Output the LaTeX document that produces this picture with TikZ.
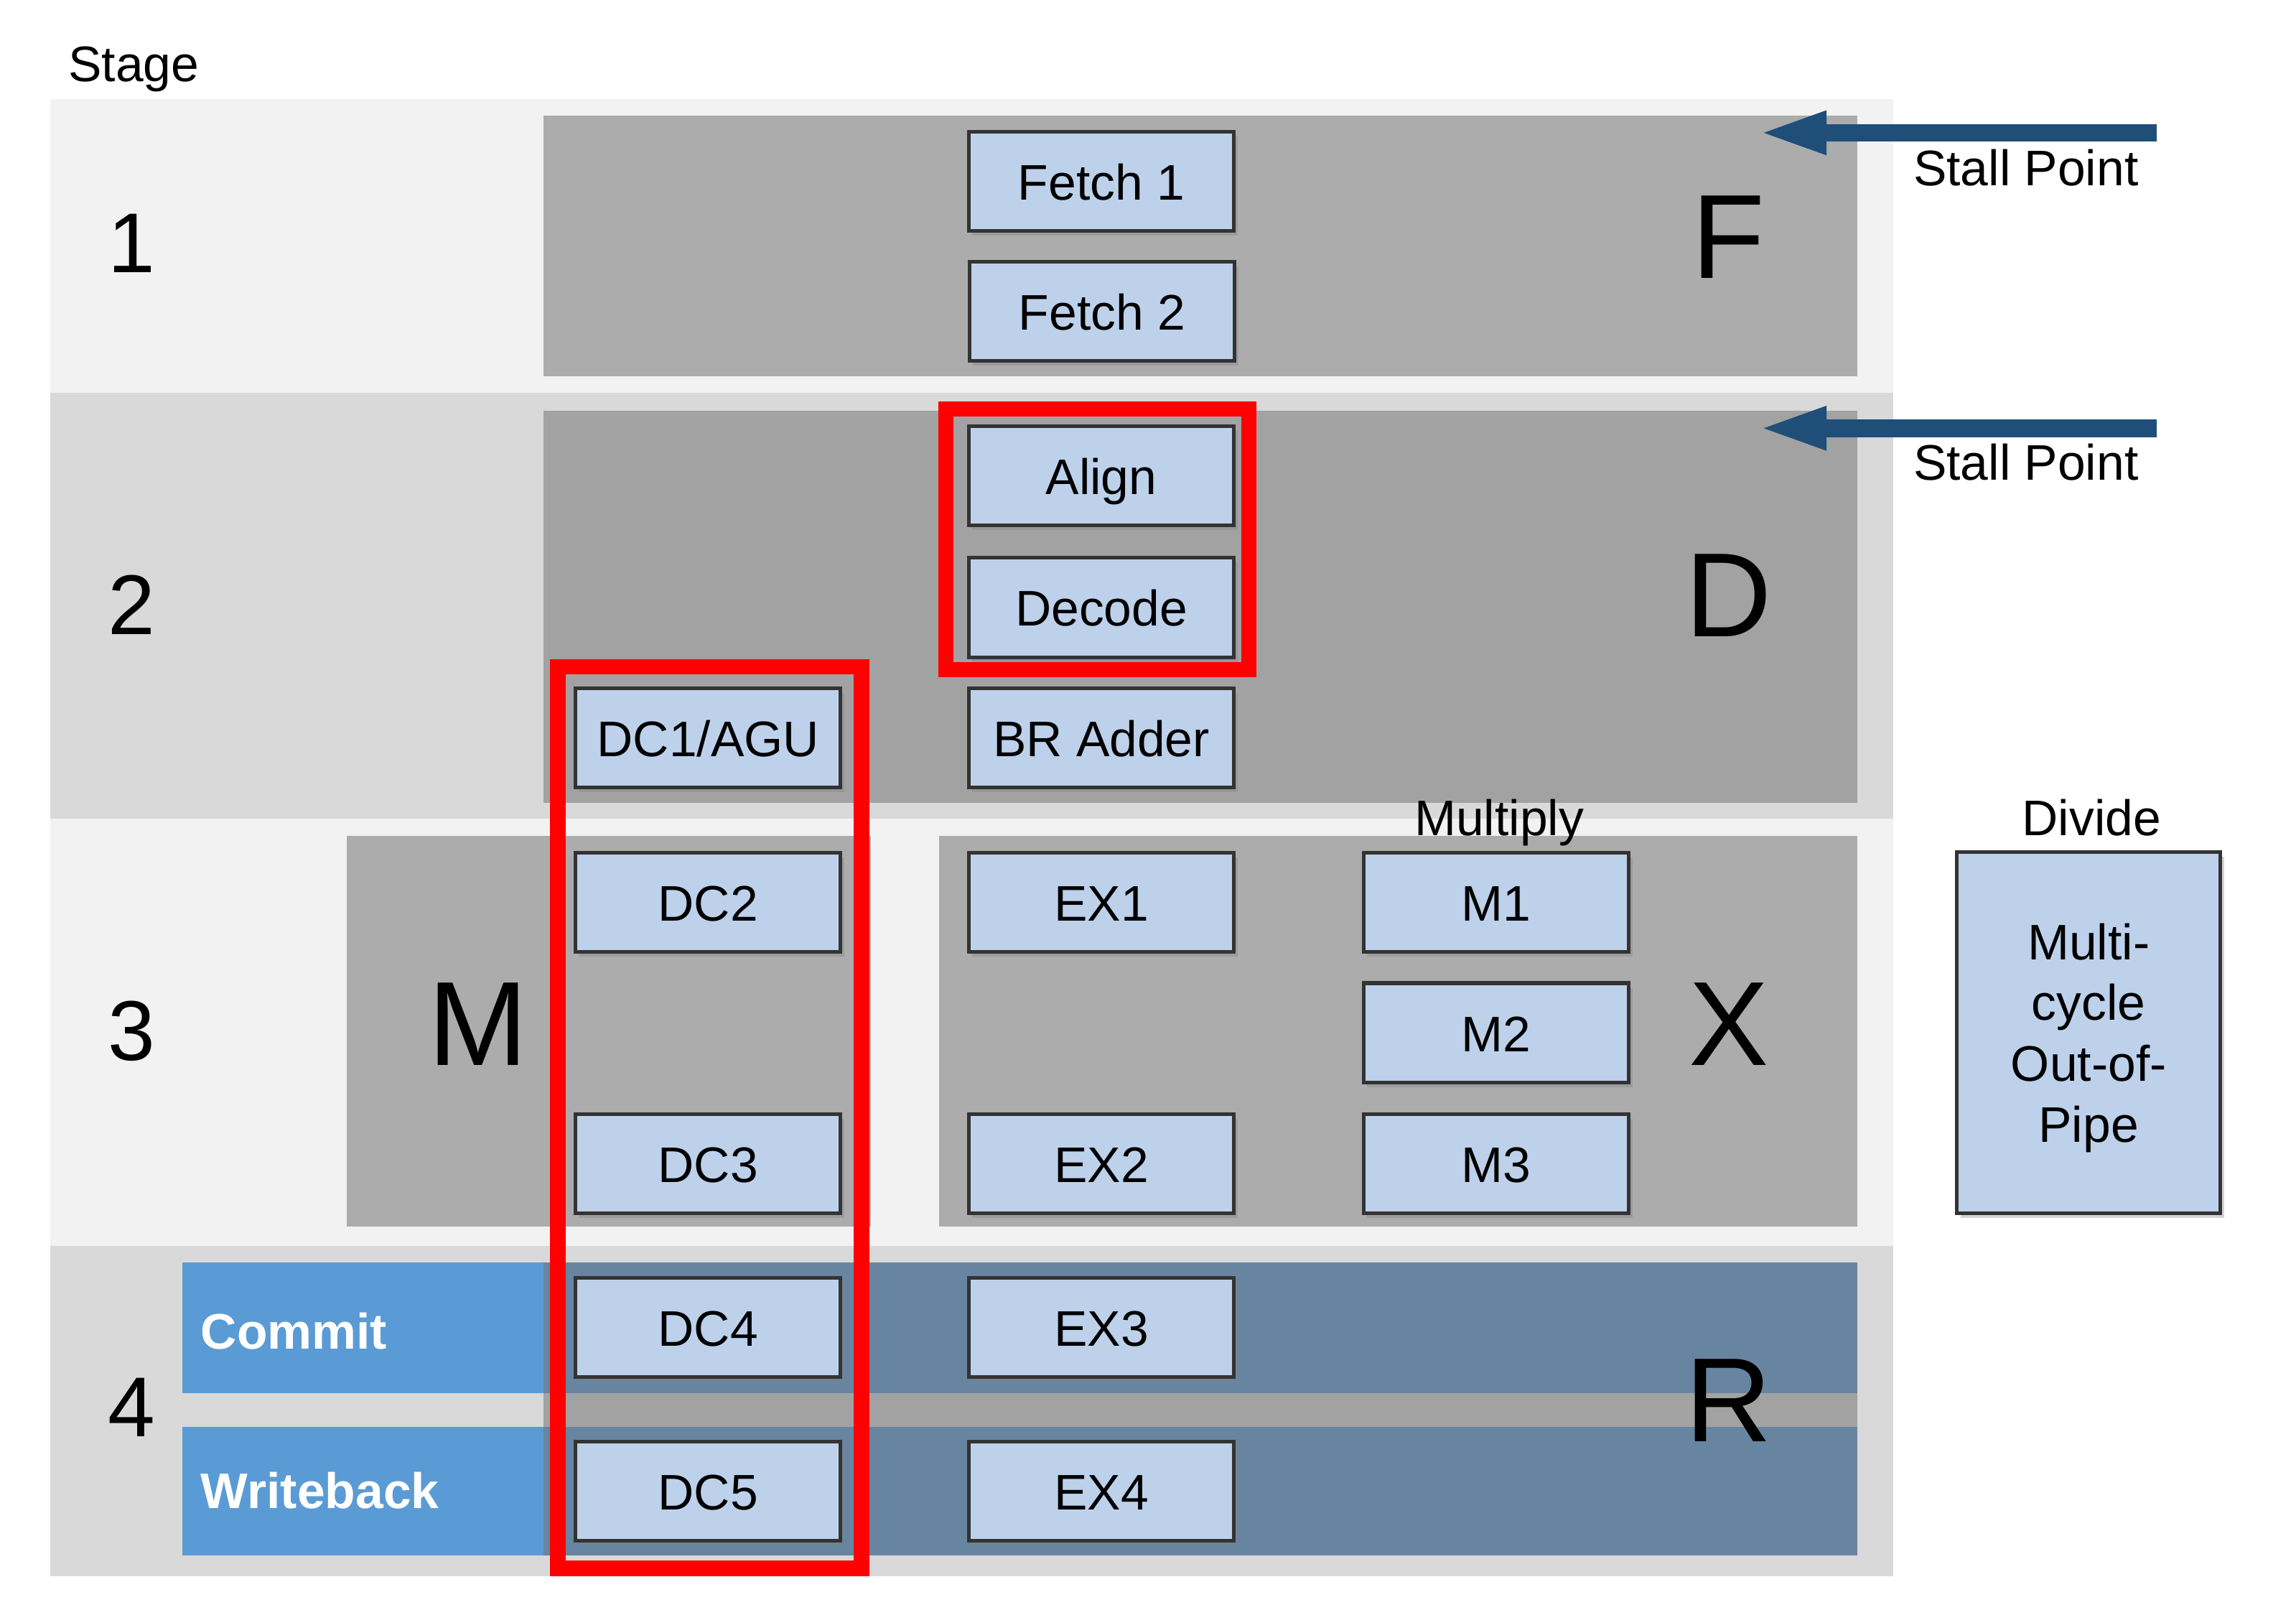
\documentclass[tikz,border=0pt]{standalone}
\usepackage{fontspec}
\setmainfont{Liberation Sans}
\usetikzlibrary{arrows.meta,shadows}

\definecolor{bandlight}{HTML}{F2F2F2}
\definecolor{banddark}{HTML}{D9D9D9}
\definecolor{blockgray}{HTML}{ACACAC}
\definecolor{blockdark}{HTML}{A2A2A2}
\definecolor{rowslate}{HTML}{6785A0}
\definecolor{rowblue}{HTML}{5B9BD5}
\definecolor{unitblue}{HTML}{BDD1EB}
\definecolor{stallblue}{HTML}{1F4E79}
\definecolor{hilite}{HTML}{FF0000}

\tikzset{
  unit/.style={draw=black!80, line width=0.7pt, fill=unitblue, minimum width=17.9mm, minimum height=6.7mm,
    inner sep=0pt, text height=0.716em, text depth=0pt, font=\fontsize{9.6}{11.7}\selectfont,
    drop shadow={shadow xshift=0.7pt, shadow yshift=-0.9pt, opacity=0.35}},
  stagenum/.style={font=\fontsize{16.3}{18}\selectfont, inner sep=0pt},
  bigletter/.style={font=\fontsize{23}{26}\selectfont, inner sep=0pt},
  plainlabel/.style={font=\fontsize{9.6}{11.7}\selectfont, inner sep=0pt},
  rowlabel/.style={font=\fontsize{9.6}{11.7}\selectfont\bfseries, text=white, anchor=west, inner sep=0pt, text depth=0pt},
  stallarrow/.style={stallblue, line width=1.2mm, -{Triangle[length=4.7mm, width=2.6mm]}},
  hibox/.style={hilite, line width=1.05mm}
}

\begin{document}
\begin{tikzpicture}[x=0.1mm, y=-0.1mm]
    \useasboundingbox (0,0) rectangle (1550,1083);

    % stage bands
    \fill[bandlight] (34,67) rectangle (1278,265);
    \fill[banddark] (34,265) rectangle (1278,552.5);
    \fill[bandlight] (34,552.5) rectangle (1278,841);
    \fill[banddark] (34,841) rectangle (1278,1064);

    % pipe blocks
    \fill[blockgray] (367,78) rectangle (1254,254);
    \fill[blockdark] (367,277) rectangle (1254,542);
    \fill[blockgray] (234,564) rectangle (588,828);
    \fill[blockgray] (634,564) rectangle (1254,828);
    \fill[blockdark] (367,852) rectangle (1254,1050);
    \fill[rowslate] (367,852) rectangle (1254,940);
    \fill[rowslate] (367,963) rectangle (1254,1050);
    \fill[rowblue] (123,852) rectangle (367,940);
    \fill[rowblue] (123,963) rectangle (367,1050);

    \node[plainlabel, anchor=base west] (stage) at (45.5,55) {Stage};
    \node[stagenum] (sone) at (89,164) {1};
    \node[stagenum] (stwo) at (89,408) {2};
    \node[stagenum] (sthree) at (89,696) {3};
    \node[stagenum] (sfour) at (89,950) {4};

    \node[bigletter] (pF) at (1167,160) {F};
    \node[bigletter] (pD) at (1167,402) {D};
    \node[bigletter] (pM) at (323,691) {M};
    \node[bigletter] (pX) at (1167,691) {X};
    \node[bigletter] (pR) at (1167,945) {R};

    \node[rowlabel] (commit) at (135,898) {Commit};
    \node[rowlabel] (writeback) at (135,1006) {Writeback};

    % units
    \node[unit] (fetchA) at (743.5,122.5) {Fetch 1};
    \node[unit] (fetchB) at (744,210) {Fetch 2};
    \node[unit] (align) at (743.5,321) {Align};
    \node[unit] (decode) at (743.5,410) {Decode};
    \node[unit] (bradder) at (743.5,498) {BR Adder};
    \node[unit] (dcA) at (478,498) {DC1/AGU};
    \node[unit] (dcB) at (478,609) {DC2};
    \node[unit] (dcC) at (478,785.5) {DC3};
    \node[unit] (dcD) at (478,896) {DC4};
    \node[unit] (dcE) at (478,1006.5) {DC5};
    \node[unit] (exA) at (743.5,609) {EX1};
    \node[unit] (exB) at (743.5,785.5) {EX2};
    \node[unit] (exC) at (743.5,896) {EX3};
    \node[unit] (exD) at (743.5,1006.5) {EX4};
    \node[unit] (mulA) at (1010,609) {M1};
    \node[unit] (mulB) at (1010,697) {M2};
    \node[unit] (mulC) at (1010,785.5) {M3};
    \node[unit, minimum width=17.8mm, minimum height=24.4mm, text height=, align=center,
      font=\fontsize{9.6}{11.7}\selectfont] (divide) at (1410,697) {Multi-\\cycle\\Out-of-\\Pipe};

    \node[plainlabel, anchor=base] (multiply) at (1012,564) {Multiply};
    \node[plainlabel, anchor=base] (dividelbl) at (1412,564) {Divide};

    % highlights
    \draw[hibox] (638.5,276) rectangle (843,452);
    \draw[hibox] (376.5,450) rectangle (581.5,1058.5);

    % stall points
    \coordinate (stallF) at (1456,89.6);
    \coordinate (stallFtip) at (1186,89.6);
    \coordinate (stallD) at (1456,289);
    \coordinate (stallDtip) at (1186,289);
    \draw[stallarrow] (stallF) -- (stallFtip);
    \draw[stallarrow] (stallD) -- (stallDtip);
    \node[plainlabel, anchor=west] (stallFlbl) at (1291,113) {Stall Point};
    \node[plainlabel, anchor=west] (stallDlbl) at (1291,312) {Stall Point};
\end{tikzpicture}
\end{document}
